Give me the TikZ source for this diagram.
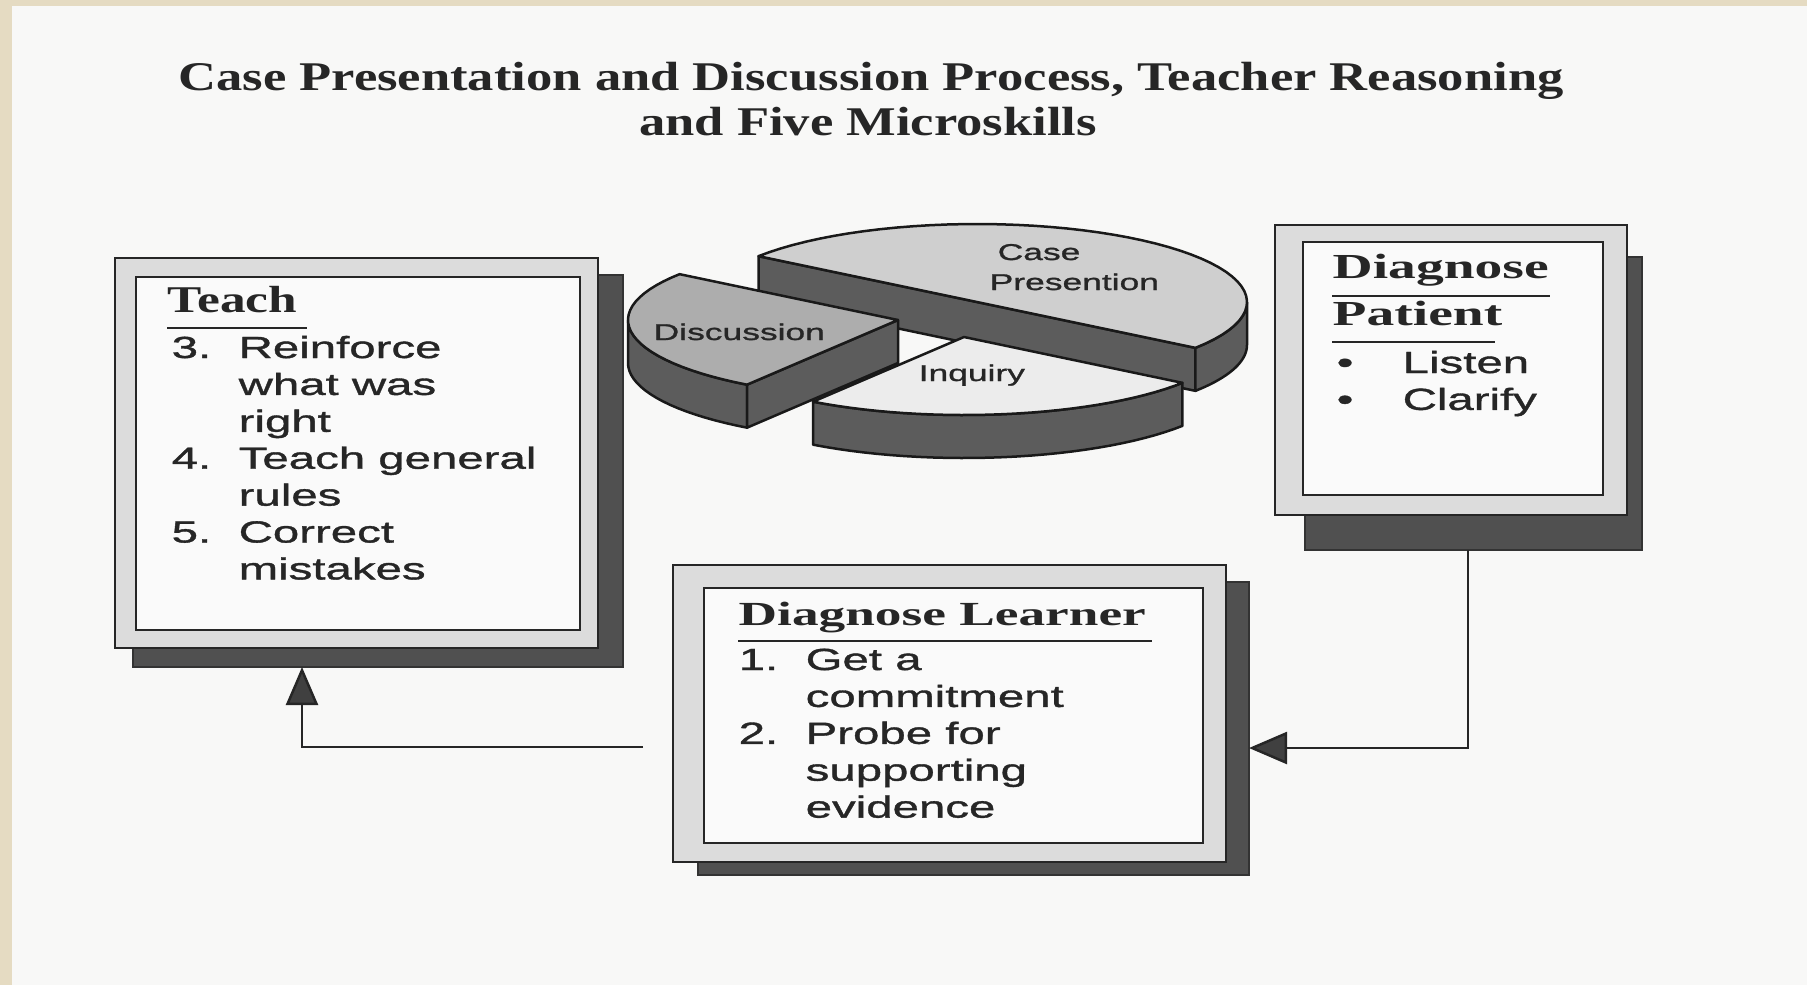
\documentclass[tikz,border=0pt]{standalone}
\usepackage{fontspec}
\usetikzlibrary{arrows.meta}
\newfontfamily\titlefont{Liberation Serif}[FakeStretch=1.29]
\newfontfamily\headfont{Liberation Serif}[FakeStretch=1.58]
\newfontfamily\teachfont{Liberation Serif}[FakeStretch=1.36]
\newfontfamily\bodyfont{Liberation Sans}[FakeStretch=1.55,FakeBold=1.2]
\definecolor{paperbeige}{HTML}{E5DBC2}
\definecolor{sheetwhite}{HTML}{F8F8F7}
\definecolor{shadegray}{HTML}{505050}
\definecolor{bandgray}{HTML}{DCDCDC}
\definecolor{inkgray}{HTML}{262626}
\definecolor{sidegray}{HTML}{5C5C5C}
\definecolor{casegray}{HTML}{CFCFCF}
\definecolor{discgray}{HTML}{ADADAD}
\definecolor{inqgray}{HTML}{ECECEC}
\begin{document}
\begin{tikzpicture}[x=0.1mm,y=-0.1mm,
    shadowbox/.style={fill=shadegray,draw=black!80,line width=0.15mm,inner sep=0,outer sep=0,anchor=north west},
    framebox/.style={fill=bandgray,draw=inkgray,line width=0.25mm,inner sep=0,outer sep=0,anchor=north west},
    innerbox/.style={fill=white!98!black,draw=inkgray,line width=0.25mm,inner sep=0,outer sep=0,anchor=north west},
    heading/.style={anchor=base west,inner sep=0,text=inkgray,font=\headfont\bfseries\fontsize{10pt}{12pt}\selectfont},
    listtext/.style={anchor=base west,inner sep=0,text=inkgray,font=\bodyfont\fontsize{8.7pt}{10.5pt}\selectfont},
    pielabel/.style={anchor=base west,inner sep=0,text=inkgray,font=\bodyfont\fontsize{6.5pt}{8pt}\selectfont},
    rule/.style={draw=inkgray,line width=0.2mm},
    pieside/.style={fill=sidegray,draw=black!90,line width=0.25mm,line join=round},
    link/.style={draw=inkgray,line width=0.25mm,-{Triangle[length=3.8mm,width=3.2mm,fill=black!75]}}]
\useasboundingbox (0,0) rectangle (1807,985);
\fill[paperbeige] (0,0) rectangle (1807,985);
\fill[sheetwhite] (12,6) rectangle (1807,985);

% title
\node[anchor=base,inner sep=0,text=inkgray,font=\titlefont\bfseries\fontsize{11.6pt}{13pt}\selectfont] (title1) at (871,90) {Case Presentation and Discussion Process, Teacher Reasoning};
\node[anchor=base,inner sep=0,text=inkgray,font=\titlefont\bfseries\fontsize{11.6pt}{13pt}\selectfont] (title2) at (868,135) {and Five Microskills};

% pie: case presentation
\filldraw[pieside] ({977+270*cos(144)},{302-78*sin(144)}) -- ({977+270*cos(-36)},{302-78*sin(-36)}) -- ++(0,43) -- ({977+270*cos(144)},{345-78*sin(144)}) -- cycle;
\filldraw[pieside] plot[domain=-36:0,samples=20] ({977+270*cos(\x)},{302-78*sin(\x)}) -- plot[domain=0:-36,samples=20] ({977+270*cos(\x)},{345-78*sin(\x)}) -- cycle;
\filldraw[fill=casegray,draw=black!90,line width=0.25mm,line join=round] (977,302) -- plot[domain=-36:144,samples=50] ({977+270*cos(\x)},{302-78*sin(\x)}) -- cycle;
% pie: discussion
\filldraw[pieside] plot[domain=180:236,samples=20] ({898+270*cos(\x)},{320-78*sin(\x)}) -- plot[domain=236:180,samples=20] ({898+270*cos(\x)},{363-78*sin(\x)}) -- cycle;
\filldraw[pieside] (898,320) -- ({898+270*cos(236)},{320-78*sin(236)}) -- ++(0,43) -- (898,363) -- cycle;
\filldraw[fill=discgray,draw=black!90,line width=0.25mm,line join=round] (898,320) -- plot[domain=144:236,samples=30] ({898+270*cos(\x)},{320-78*sin(\x)}) -- cycle;
% pie: inquiry
\filldraw[pieside] plot[domain=236:324,samples=30] ({964+270*cos(\x)},{337-78*sin(\x)}) -- plot[domain=324:236,samples=30] ({964+270*cos(\x)},{380-78*sin(\x)}) -- cycle;
\filldraw[fill=inqgray,draw=black!90,line width=0.25mm,line join=round] (964,337) -- plot[domain=236:324,samples=30] ({964+270*cos(\x)},{337-78*sin(\x)}) -- cycle;

\node[pielabel] (casetxt) at (997,260) {Case};
\node[pielabel] (prestxt) at (989,290) {Presention};
\node[pielabel] (disctxt) at (653,340) {Discussion};
\node[pielabel] (inqtxt) at (918,381) {Inquiry};

% teach box
\node[shadowbox,minimum width=49mm,minimum height=39.2mm] (teachsh) at (133,275) {};
\node[framebox,minimum width=48.3mm,minimum height=39mm] (teach) at (115,258) {};
\node[innerbox,minimum width=44.4mm,minimum height=35.3mm] (teachin) at (136,277) {};
\node[heading,font=\teachfont\bfseries\fontsize{10.75pt}{12pt}\selectfont] (teachhd) at (167,312) {Teach};
\draw[rule] (167,328) -- (307,328);
\node[listtext] (teachlist) at (171,358) {\begin{tabular}[t]{@{}p{6.7mm}@{}l@{}}
3. & Reinforce\\
   & what was\\
   & right\\
4. & Teach general\\
   & rules\\
5. & Correct\\
   & mistakes
\end{tabular}};

% diagnose patient box
\node[shadowbox,minimum width=33.7mm,minimum height=29.3mm] (patientsh) at (1305,257) {};
\node[framebox,minimum width=35.2mm,minimum height=29mm] (patient) at (1275,225) {};
\node[innerbox,minimum width=30mm,minimum height=25.3mm] (patientin) at (1303,242) {};
\node[heading] (patienthd1) at (1332,278) {Diagnose};
\draw[rule] (1332,296) -- (1550,296);
\node[heading] (patienthd2) at (1332,325) {Patient};
\draw[rule] (1332,342) -- (1495,342);
\node[listtext] (patientlist) at (1336,373) {\begin{tabular}[t]{@{}p{6.6mm}@{}l@{}}
\textbullet & Listen\\
\textbullet & Clarify
\end{tabular}};

% diagnose learner box
\node[shadowbox,minimum width=55.1mm,minimum height=29.3mm] (learnsh) at (698,582) {};
\node[framebox,minimum width=55.3mm,minimum height=29.7mm] (learn) at (673,565) {};
\node[innerbox,minimum width=49.9mm,minimum height=25.5mm] (learnin) at (704,588) {};
\node[heading,font=\headfont\bfseries\fontsize{9.6pt}{12pt}\selectfont] (learnhd) at (738,625) {Diagnose Learner};
\draw[rule] (738,641) -- (1152,641);
\node[listtext] (learnlist) at (738,670) {\begin{tabular}[t]{@{}p{6.7mm}@{}l@{}}
1. & Get a\\
   & commitment\\
2. & Probe for\\
   & supporting\\
   & evidence
\end{tabular}};

% connectors
\coordinate (fromlearn) at (643,747);
\coordinate (teachturn) at (302,747);
\coordinate (patientturn) at (1468,748);
\draw[link] (fromlearn) -- (teachturn) -- (teachturn |- teachsh.south);
\draw[link] (patientturn |- patientsh.south) -- (patientturn) -- (patientturn -| learnsh.east);
\end{tikzpicture}
\end{document}
